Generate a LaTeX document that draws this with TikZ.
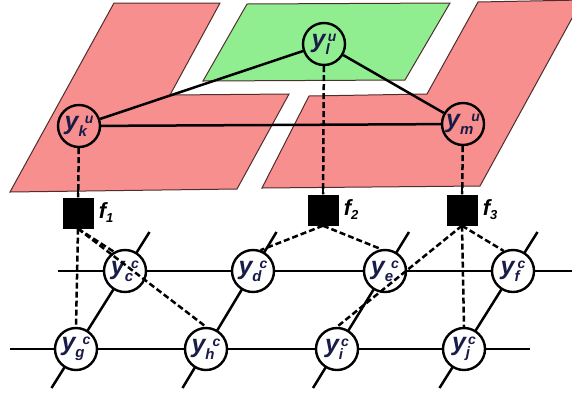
\documentclass[tikz,border=0pt]{standalone}
\usepackage{fontspec}
\setmainfont{Liberation Sans}
\usetikzlibrary{calc}

\definecolor{sheetred}{RGB}{248,143,143}
\definecolor{sheetgreen}{RGB}{144,238,144}
\definecolor{sheetedge}{RGB}{80,45,45}
\definecolor{ink}{RGB}{24,28,70}

% variable label: italic y with a lowered subscript and a raised superscript
\newcommand{\varlab}[2]{%
  {\fontsize{25}{25}\selectfont\bfseries\itshape y}%
  \raisebox{-7pt}{\fontsize{15}{15}\selectfont\bfseries\itshape #1}%
  \kern-2pt\raisebox{6pt}{\fontsize{14}{14}\selectfont\bfseries\itshape #2}}
% factor label: bold italic f with a subscript number
\newcommand{\factlab}[1]{%
  f\raisebox{-4pt}{\fontsize{13}{13}\selectfont #1}}

\begin{document}
\begin{tikzpicture}[x=1pt,y=-1pt,
  sheet/.style={draw=sheetedge,line width=1pt},
  var/.style={circle,draw=black,line width=2.4pt,minimum size=42pt,inner sep=0pt,text=ink},
  obsvar/.style={var,fill=white},
  factor/.style={rectangle,fill=black,minimum size=31pt,inner sep=0pt},
  flab/.style={anchor=west,inner sep=0pt,font=\bfseries\itshape\fontsize{22}{22}\selectfont},
  edge/.style={line width=2.5pt},
  link/.style={line width=2.5pt,dash pattern=on 6pt off 3pt},
]
\useasboundingbox (0,0) rectangle (572,400);

% coloured sheets
\begin{scope}
  \clip (0,0) rectangle (572,400);
  \draw[sheet,fill=sheetred] (114,3) -- (220,3) -- (170,95) -- (289,94) -- (237,189) -- (10,192) -- cycle;
  \draw[sheet,fill=sheetgreen] (247,4) -- (450,3) -- (405,80) -- (203,81) -- cycle;
  \draw[sheet,fill=sheetred] (309,96) -- (427,94) -- (478,2) -- (582,0) -- (480,186) -- (262,188) -- cycle;
\end{scope}

% upper variables
\node[var] (yk) at (79,126) {\varlab{k}{u}};
\node[var] (yl) at (324,44) {\varlab{l}{u}};
\node[var] (ym) at (463,124) {\varlab{m}{u}};
\draw[edge] (yk) -- (yl);
\draw[edge] (yl) -- (ym);
\draw[edge] (yk) -- (ym);

% factors
\node[factor] (f1) at (78,213) {};
\node[factor] (f2) at (323,210) {};
\node[factor] (f3) at (462,210) {};
\node[flab] (f1l) at ($(f1.east)+(5,0)$) {\factlab{1}};
\node[flab] (f2l) at ($(f2.east)+(5,0)$) {\factlab{2}};
\node[flab] (f3l) at ($(f3.east)+(5,0)$) {\factlab{3}};

\draw[link] (yk) -- (f1);
\draw[link] (yl) -- (f2);
\draw[link] (ym) -- (f3);
\draw[edge] (f1.north) -- ($(f1.north)+(0,-8)$);
\draw[edge] (f2.north) -- ($(f2.north)+(0,-8)$);
\draw[edge] (f3.north) -- ($(f3.north)+(0,-8)$);

% lower grid
\coordinate (yc) at (125,271);
\coordinate (yd) at (253,271);
\coordinate (ye) at (385,271);
\coordinate (yf) at (513,271);
\coordinate (yg) at (76,349);
\coordinate (yh) at (206,349);
\coordinate (yi) at (337,349);
\coordinate (yj) at (464,349);
\coordinate (r1l) at (58,271);
\coordinate (r1r) at (572,271);
\coordinate (r2l) at (10,349);
\coordinate (r2r) at (530,349);

\draw[edge] (r1l) -- (r1r);
\draw[edge] (r2l) -- (r2r);
\draw[edge] ($(yc)!1.5!(yg)$) -- ($(yg)!1.5!(yc)$);
\draw[edge] ($(yd)!1.5!(yh)$) -- ($(yh)!1.5!(yd)$);
\draw[edge] ($(ye)!1.5!(yi)$) -- ($(yi)!1.5!(ye)$);
\draw[edge] ($(yf)!1.5!(yj)$) -- ($(yj)!1.5!(yf)$);

\node[obsvar] (c) at (yc) {\varlab{c}{c}};
\node[obsvar] (d) at (yd) {\varlab{d}{c}};
\node[obsvar] (e) at (ye) {\varlab{e}{c}};
\node[obsvar] (f) at (yf) {\varlab{f}{c}};
\node[obsvar] (g) at (yg) {\varlab{g}{c}};
\node[obsvar] (h) at (yh) {\varlab{h}{c}};
\node[obsvar] (i) at (yi) {\varlab{i}{c}};
\node[obsvar] (j) at (yj) {\varlab{j}{c}};

% factor links to the lower variables
\draw[link] (f1.south) -- (g.north);
\draw[link] (f1.south) -- (c.120);
\draw[link] (f1.south) -- (h.north);
\draw[link] (f2.south) -- (d.70);
\draw[link] (f2.south) -- (e.100);
\draw[link] (f3.south) -- (i.north);
\draw[link] (f3.south) -- (f.115);
\draw[link] (f3.south) -- (j.north);
\end{tikzpicture}
\end{document}
